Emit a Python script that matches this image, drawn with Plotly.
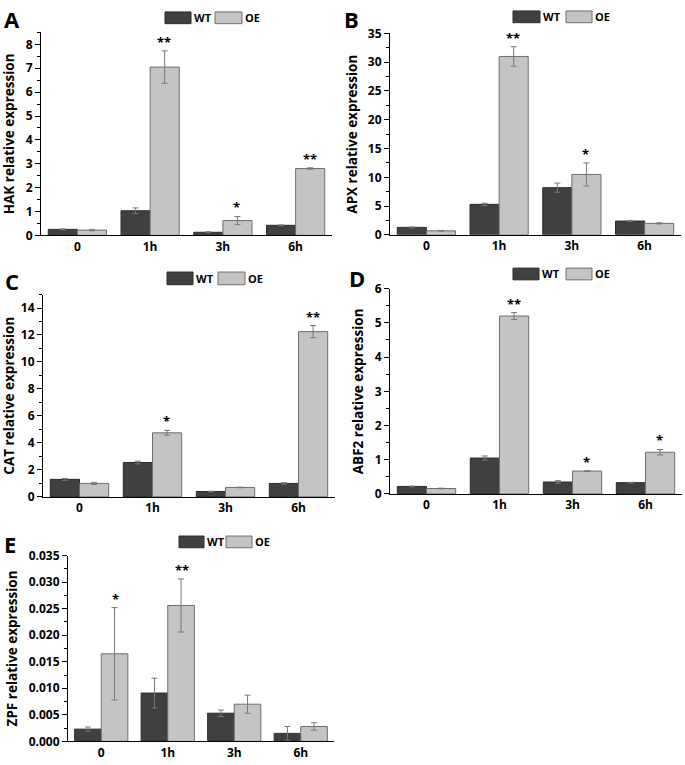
import plotly.graph_objects as go

W, H = 685, 765
FONT = "Open Sans"
WT_COLOR = "#404040"
OE_COLOR = "#c4c4c4"

times = ["0", "1h", "3h", "6h"]

hak_wt = [0.25, 1.03, 0.13, 0.42]
hak_wt_err = [0.02, 0.12, 0.02, 0.02]
hak_oe = [0.22, 7.05, 0.62, 2.80]
hak_oe_err = [0.03, 0.68, 0.17, 0.03]
hak_stars = ["", "**", "*", "**"]

apx_wt = [1.3, 5.3, 8.2, 2.4]
apx_wt_err = [0.08, 0.2, 0.8, 0.1]
apx_oe = [0.7, 31.0, 10.5, 2.0]
apx_oe_err = [0.05, 1.7, 2.0, 0.1]
apx_stars = ["", "**", "*", ""]

cat_wt = [1.3, 2.55, 0.4, 1.0]
cat_wt_err = [0.07, 0.1, 0.02, 0.05]
cat_oe = [1.0, 4.75, 0.7, 12.25]
cat_oe_err = [0.08, 0.18, 0.02, 0.45]
cat_stars = ["", "*", "", "**"]

abf2_wt = [0.22, 1.05, 0.35, 0.33]
abf2_wt_err = [0.01, 0.06, 0.04, 0.01]
abf2_oe = [0.16, 5.2, 0.67, 1.22]
abf2_oe_err = [0.01, 0.1, 0.01, 0.08]
abf2_stars = ["", "**", "*", "*"]

zpf_wt = [0.0023, 0.0091, 0.0053, 0.0015]
zpf_wt_err = [0.0004, 0.0028, 0.0006, 0.0013]
zpf_oe = [0.0165, 0.0256, 0.0070, 0.0028]
zpf_oe_err = [0.0087, 0.0050, 0.0017, 0.0007]
zpf_stars = ["*", "**", "", ""]

# panel layout in pixels: letter, gene, plot box (x0, x1, ytop, ybottom), y range, dtick, tickformat
panels = [
    ("A", "HAK", (41, 332, 24, 231.5), [0, 8.5], 1, "", hak_wt, hak_wt_err, hak_oe, hak_oe_err, hak_stars,
     (2, 10), (165, 191, 3, 15, 215, 242)),
    ("B", "APX", (390, 681, 25, 231), [0, 35], 5, "", apx_wt, apx_wt_err, apx_oe, apx_oe_err, apx_stars,
     (342, 10), (513, 540, 2, 14, 566, 592)),
    ("C", "CAT", (43, 335, 292, 499), [0, 15], 2, "", cat_wt, cat_wt_err, cat_oe, cat_oe_err, cat_stars,
     (3, 278), (167, 193, 269, 282, 218, 245)),
    ("D", "ABF2", (390, 682, 286, 496), [0, 6], 1, "", abf2_wt, abf2_wt_err, abf2_oe, abf2_oe_err, abf2_stars,
     (347, 275), (513, 539, 265, 277, 566, 592)),
    ("E", "ZPF", (68, 334, 559, 749), [0, 0.035], 0.005, ".3f", zpf_wt, zpf_wt_err, zpf_oe, zpf_oe_err, zpf_stars,
     (2, 547), (179, 204, 539, 551, 226, 252)),
]


def px_x(v):
    return v / W


def px_y(v):
    return 1 - v / H


fig = go.Figure()
shapes = []
annotations = []

for i, (letter, gene, box, yr, dt, fmt, wt, wt_e, oe, oe_e, stars, lpos, leg) in enumerate(panels):
    n = "" if i == 0 else str(i + 1)
    xa, ya = "x" + n, "y" + n
    x0, x1, yt, yb = box

    fig.add_trace(go.Bar(
        x=times, y=wt, xaxis=xa, yaxis=ya, name="WT", showlegend=False,
        marker=dict(color=WT_COLOR, line=dict(color="#2a2a2a", width=1)),
        error_y=dict(type="data", array=wt_e, color="#777777", thickness=1, width=3),
    ))
    fig.add_trace(go.Bar(
        x=times, y=oe, xaxis=xa, yaxis=ya, name="OE", showlegend=False,
        marker=dict(color=OE_COLOR, line=dict(color="#6e6e6e", width=1)),
        error_y=dict(type="data", array=oe_e, color="#777777", thickness=1, width=3),
    ))

    fig.layout["xaxis" + n] = dict(
        domain=[px_x(x0), px_x(x1)], anchor=ya, range=[-0.5, 3.5],
        showline=True, linecolor="black", linewidth=1, ticks="",
        tickfont=dict(family=FONT, size=12, color="black", weight="bold"),
        showgrid=False, zeroline=False, fixedrange=True,
    )
    fig.layout["yaxis" + n] = dict(
        domain=[px_y(yb), px_y(yt)], anchor=xa, range=yr, dtick=dt, tickformat=fmt,
        showline=True, linecolor="black", linewidth=1,
        ticks="outside", ticklen=5, tickcolor="black",
        minor=dict(ticks="outside", ticklen=3, dtick=dt / 2, tickcolor="black", showgrid=False),
        tickfont=dict(family=FONT, size=12, color="black", weight="bold"),
        title=dict(text=gene + " relative expression", standoff=7,
                   font=dict(family=FONT, size=13.5, color="black", weight="bold")),
        showgrid=False, zeroline=False,
    )

    # significance marks
    for t, v, e, s in zip(times, oe, oe_e, stars):
        if s:
            annotations.append(dict(
                x=t, y=v + e, xref=xa, yref=ya, text=s, showarrow=False,
                xshift=14, yshift=9, font=dict(family=FONT, size=13, color="black", weight="bold"),
            ))

    # panel letter
    annotations.append(dict(
        x=px_x(lpos[0]), y=px_y(lpos[1]), xref="paper", yref="paper", text=letter,
        showarrow=False, xanchor="left", yanchor="middle",
        font=dict(family=FONT, size=22, color="black", weight="bold"),
    ))

    # legend swatches
    wx0, wx1, ly0, ly1, ox0, ox1 = leg
    for sx0, sx1, col, lc, label in [(wx0, wx1, WT_COLOR, "#2a2a2a", "WT"), (ox0, ox1, OE_COLOR, "#6e6e6e", "OE")]:
        shapes.append(dict(
            type="rect", xref="paper", yref="paper",
            x0=px_x(sx0), x1=px_x(sx1), y0=px_y(ly1), y1=px_y(ly0),
            fillcolor=col, line=dict(color=lc, width=1),
        ))
        annotations.append(dict(
            x=px_x(sx1 + 1), y=px_y((ly0 + ly1) / 2), xref="paper", yref="paper", text=label,
            showarrow=False, xanchor="left", yanchor="middle",
            font=dict(family=FONT, size=11, color="black", weight="bold"),
        ))

fig.update_layout(
    width=W, height=H, margin=dict(l=0, r=0, t=0, b=0),
    paper_bgcolor="white", plot_bgcolor="white",
    barmode="group", bargap=0.2, bargroupgap=0,
    shapes=shapes, annotations=annotations,
)

# drop the browser's default body margin so the figure fills the window exactly
fig.write_html("out.html", config={"displayModeBar": False},
               post_script="document.body.style.margin='0';")
